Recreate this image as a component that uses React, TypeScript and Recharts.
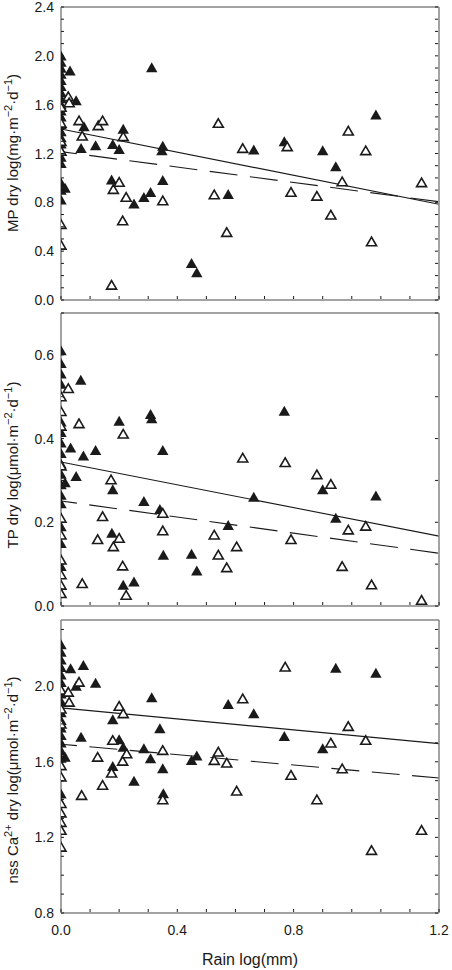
import { ReferenceLine, Scatter, ScatterChart, XAxis, YAxis } from "recharts";

type Pt = [number, number];

// shared x axis: rain log(mm)
const rainTicks = [0, 0.1, 0.2, 0.3, 0.4, 0.5, 0.6, 0.7, 0.8, 0.9, 1.0, 1.1, 1.2, 1.3];
const rainTickLabels: Record<string, string> = { "0": "0.0", "0.4": "0.4", "0.8": "0.8", "1.3": "1.2" };

// MP panel
const mpTicks = [0, 0.1, 0.2, 0.3, 0.4, 0.5, 0.6, 0.7, 0.8, 0.9, 1.0, 1.1, 1.2, 1.3, 1.4, 1.5, 1.6, 1.7, 1.8, 1.9, 2.0, 2.1, 2.2, 2.3, 2.4];
const mpLabeled = [0, 0.4, 0.8, 1.2, 1.6, 2.0, 2.4];
const mpFilled: Pt[] = [
  [0, 2.0], [0, 1.95], [0, 1.9], [0, 1.85], [0, 1.8], [0, 1.75], [0, 1.7], [0, 1.65], [0, 1.6],
  [0, 1.55], [0, 1.5], [0, 1.44], [0, 1.38], [0, 1.33], [0, 1.28], [0, 1.22], [0, 1.17], [0, 1.12],
  [0, 0.96], [0, 0.9], [0, 0.82],
  [0.031, 1.877], [0.052, 1.634], [0.079, 1.42], [0.069, 1.243], [0.119, 1.265], [0.178, 1.276],
  [0.2, 1.235], [0.214, 1.4], [0.312, 1.904], [0.35, 1.262], [0.347, 1.225], [0.174, 0.984],
  [0.35, 0.98], [0.251, 0.787], [0.285, 0.842], [0.308, 0.883], [0.449, 0.3], [0.467, 0.224],
  [0.575, 0.866], [0.014, 0.918], [0.663, 1.23], [0.768, 1.298], [0.9, 1.224], [0.945, 1.093],
  [1.083, 1.516],
];
const mpOpen: Pt[] = [
  [0, 1.58], [0, 1.45], [0, 1.3], [0, 1.22], [0, 0.62], [0, 0.45],
  [0.025, 1.667], [0.028, 1.617], [0.062, 1.47], [0.073, 1.344], [0.128, 1.429], [0.143, 1.47],
  [0.214, 1.339], [0.18, 0.907], [0.2, 0.965], [0.224, 0.842], [0.212, 0.65], [0.174, 0.123],
  [0.35, 0.814], [0.527, 0.863], [0.541, 1.448], [0.57, 0.555], [0.625, 1.243], [0.778, 1.257],
  [0.791, 0.883], [0.88, 0.852], [0.928, 0.697], [0.967, 0.97], [0.988, 1.385], [1.048, 1.224],
  [1.068, 0.478], [1.24, 0.962],
];
const mpSolid: Pt[] = [[0, 1.4], [1.3, 0.785]];
const mpDashed: Pt[] = [[0, 1.215], [1.3, 0.805]];

// TP panel
const tpTicks = [0, 0.1, 0.2, 0.3, 0.4, 0.5, 0.6, 0.7];
const tpLabeled = [0, 0.2, 0.4, 0.6];
const tpFilled: Pt[] = [
  [0, 0.61], [0, 0.58], [0, 0.555], [0, 0.53], [0, 0.44], [0, 0.415], [0, 0.39], [0, 0.365],
  [0, 0.34], [0, 0.315], [0, 0.29], [0, 0.265], [0, 0.245], [0, 0.19], [0, 0.15], [0, 0.095],
  [0.068, 0.54], [0.033, 0.378], [0.077, 0.359], [0.119, 0.372], [0.052, 0.31], [0.014, 0.295],
  [0.2, 0.442], [0.308, 0.458], [0.312, 0.448], [0.35, 0.372], [0.178, 0.278], [0.285, 0.25],
  [0.34, 0.231], [0.175, 0.174], [0.352, 0.122], [0.449, 0.124], [0.467, 0.084], [0.214, 0.05],
  [0.251, 0.058], [0.575, 0.193], [0.663, 0.26], [0.768, 0.466], [0.9, 0.278], [0.945, 0.21],
  [1.083, 0.263],
];
const tpOpen: Pt[] = [
  [0, 0.5], [0, 0.465], [0, 0.43], [0, 0.335], [0, 0.21], [0, 0.17], [0, 0.11], [0, 0.075],
  [0, 0.05], [0, 0.03],
  [0.025, 0.52], [0.062, 0.436], [0.214, 0.411], [0.172, 0.302], [0.143, 0.214], [0.126, 0.159],
  [0.18, 0.142], [0.2, 0.162], [0.212, 0.096], [0.224, 0.026], [0.073, 0.054], [0.35, 0.222],
  [0.35, 0.18], [0.527, 0.17], [0.541, 0.122], [0.57, 0.092], [0.604, 0.142], [0.625, 0.354],
  [0.771, 0.343], [0.791, 0.159], [0.88, 0.314], [0.928, 0.291], [0.988, 0.182], [0.967, 0.095],
  [1.048, 0.191], [1.068, 0.051], [1.24, 0.014],
];
const tpSolid: Pt[] = [[0, 0.344], [1.3, 0.167]];
const tpDashed: Pt[] = [[0, 0.251], [1.3, 0.126]];

// nss Ca2+ panel
const caTicks = [0.8, 0.9, 1.0, 1.1, 1.2, 1.3, 1.4, 1.5, 1.6, 1.7, 1.8, 1.9, 2.0, 2.1, 2.2, 2.3];
const caLabeled = [0.8, 1.2, 1.6, 2.0];
const caFilled: Pt[] = [
  [0, 2.22], [0, 2.18], [0, 2.14], [0, 2.1], [0, 2.06], [0, 2.02], [0, 1.96], [0, 1.92], [0, 1.86],
  [0, 1.82], [0, 1.78], [0, 1.74], [0, 1.7], [0, 1.66], [0, 1.62], [0, 1.43],
  [0.033, 2.093], [0.077, 2.111], [0.052, 2.0], [0.119, 2.017], [0.312, 1.94], [0.069, 1.731],
  [0.178, 1.823], [0.2, 1.717], [0.214, 1.678], [0.285, 1.67], [0.308, 1.617], [0.34, 1.776],
  [0.35, 1.564], [0.352, 1.432], [0.178, 1.576], [0.251, 1.498], [0.449, 1.608], [0.467, 1.631],
  [0.575, 1.904], [0.014, 1.625], [0.663, 1.855], [0.768, 1.735], [0.9, 1.67], [0.945, 2.096],
  [1.083, 2.07],
];
const caOpen: Pt[] = [
  [0, 1.98], [0, 1.88], [0, 1.8], [0, 1.58], [0, 1.52], [0, 1.38], [0, 1.33], [0, 1.28],
  [0, 1.238], [0, 1.149],
  [0.025, 1.969], [0.028, 1.916], [0.062, 2.022], [0.2, 1.894], [0.214, 1.855], [0.178, 1.714],
  [0.126, 1.625], [0.174, 1.541], [0.212, 1.604], [0.226, 1.643], [0.143, 1.476], [0.071, 1.423],
  [0.35, 1.661], [0.35, 1.4], [0.527, 1.608], [0.541, 1.652], [0.57, 1.594], [0.604, 1.446],
  [0.625, 1.934], [0.771, 2.102], [0.791, 1.529], [0.88, 1.4], [0.928, 1.7], [0.967, 1.564],
  [0.988, 1.788], [1.048, 1.714], [1.068, 1.132], [1.24, 1.238],
];
const caSolid: Pt[] = [[0, 1.885], [1.3, 1.696]];
const caDashed: Pt[] = [[0, 1.693], [1.3, 1.514]];

const FONT = '"Liberation Sans", Arial, Helvetica, sans-serif';
const INK = "#1a1a1a";
const FRAME = { stroke: "#858585", strokeWidth: 1.5 };
const TICK = 3;
const TICK_FONT = 14;

const toXY = (pts: Pt[]) => pts.map(([x, y]) => ({ x, y }));

function Tri({ cx, cy, hollow }: any) {
  if (cx == null || cy == null) return null;
  if (hollow) {
    return (
      <polygon
        points={`${cx},${cy - 4.5} ${cx - 5},${cy + 4.1} ${cx + 5},${cy + 4.1}`}
        fill="#fff"
        stroke={INK}
        strokeWidth={1.6}
      />
    );
  }
  return <polygon points={`${cx},${cy - 5.3} ${cx - 5.7},${cy + 4.7} ${cx + 5.7},${cy + 4.7}`} fill={INK} />;
}

// axes are 1px thick boxes (recharts skips 0-sized ones); ticks point inwards
const bottomTick = (labels: Record<string, string> | null) => (p: any) => {
  const { x, y, payload } = p;
  const label = labels ? labels[String(payload.value)] : undefined;
  return (
    <g>
      <line x1={x} x2={x} y1={y - 1} y2={y - 1 - TICK} stroke={INK} />
      {label && (
        <text x={x} y={y + 22} textAnchor="middle" fontSize={TICK_FONT} fontFamily={FONT} fill={INK}>
          {label}
        </text>
      )}
    </g>
  );
};

const topTick = (p: any) => <line x1={p.x} x2={p.x} y1={p.y} y2={p.y + TICK} stroke={INK} />;

const leftTick = (labeled: number[]) => (p: any) => {
  const { x, y, payload } = p;
  const v = payload.value as number;
  return (
    <g>
      <line x1={x} x2={x + TICK} y1={y} y2={y} stroke={INK} />
      {labeled.includes(v) && (
        <text x={x - 7} y={y} dy={5} textAnchor="end" fontSize={TICK_FONT} fontFamily={FONT} fill={INK}>
          {v.toFixed(1)}
        </text>
      )}
    </g>
  );
};

const rightTick = (p: any) => <line x1={p.x - 1} x2={p.x - 1 - TICK} y1={p.y} y2={p.y} stroke={INK} />;

// rotated y title, segs flagged true are superscripts
function YTitle({ centerY, segs }: { centerY: number; segs: Array<[string, boolean]> }) {
  let up = false;
  return (
    <text
      transform={`translate(17.5,${centerY}) rotate(-90)`}
      textAnchor="middle"
      fontSize={15}
      fontFamily={FONT}
      fill={INK}
    >
      {segs.map(([s, sup], i) => {
        const dy = sup && !up ? -5.5 : !sup && up ? 5.5 : 0;
        up = sup;
        return (
          <tspan key={i} dy={dy} fontSize={sup ? 11 : 15}>
            {s}
          </tspan>
        );
      })}
    </text>
  );
}

function XTitle() {
  return (
    <text x={250} y={352} textAnchor="middle" fontSize={16} fontFamily={FONT} fill={INK}>
      Rain log(mm)
    </text>
  );
}

function Panel({
  top,
  height,
  filled,
  open,
  solid,
  dashed,
  yDomain,
  yTicks,
  yLabeled,
  titleY,
  title,
  showX,
}: {
  top: number;
  height: number;
  filled: Pt[];
  open: Pt[];
  solid: Pt[];
  dashed: Pt[];
  yDomain: [number, number];
  yTicks: number[];
  yLabeled: number[];
  titleY: number;
  title: Array<[string, boolean]>;
  showX?: boolean;
}) {
  return (
    <div style={{ position: "absolute", left: 0, top }}>
      <ScatterChart width={452} height={height} margin={{ top: 6, right: 12, bottom: height - 301, left: 60 }}>
        <XAxis
          dataKey="x"
          type="number"
          domain={[0, 1.3]}
          ticks={rainTicks}
          interval={0}
          height={1}
          tickSize={0}
          tickMargin={0}
          tickLine={false}
          axisLine={FRAME}
          allowDataOverflow
          tick={bottomTick(showX ? rainTickLabels : null)}
          label={showX ? <XTitle /> : undefined}
        />
        <XAxis
          xAxisId="top"
          orientation="top"
          type="number"
          domain={[0, 1.3]}
          ticks={rainTicks}
          interval={0}
          height={1}
          tickSize={0}
          tickMargin={0}
          tickLine={false}
          axisLine={FRAME}
          allowDataOverflow
          tick={topTick}
        />
        <YAxis
          dataKey="y"
          type="number"
          domain={yDomain}
          ticks={yTicks}
          interval={0}
          width={1}
          tickSize={0}
          tickMargin={0}
          tickLine={false}
          axisLine={FRAME}
          allowDataOverflow
          tick={leftTick(yLabeled)}
          label={<YTitle centerY={titleY} segs={title} />}
        />
        <YAxis
          yAxisId="right"
          orientation="right"
          type="number"
          domain={yDomain}
          ticks={yTicks}
          interval={0}
          width={1}
          tickSize={0}
          tickMargin={0}
          tickLine={false}
          axisLine={FRAME}
          allowDataOverflow
          tick={rightTick}
        />
        <ReferenceLine segment={toXY(solid)} stroke={INK} strokeWidth={1.1} ifOverflow="visible" />
        <ReferenceLine
          segment={toXY(dashed)}
          stroke={INK}
          strokeWidth={1.1}
          strokeDasharray="28 12.5"
          strokeDashoffset={12}
          ifOverflow="visible"
        />
        <Scatter data={toXY(filled)} shape={(p: any) => <Tri {...p} />} isAnimationActive={false} />
        <Scatter data={toXY(open)} shape={(p: any) => <Tri {...p} hollow />} isAnimationActive={false} />
      </ScatterChart>
    </div>
  );
}

export default function App() {
  // upper panels get taller svgs that reach under the next panel, so their 0.0 label is not cut
  return (
    <div style={{ position: "absolute", left: 0, top: 0, width: 452, height: 970, background: "#fff" }}>
      <Panel
        top={0}
        height={312}
        filled={mpFilled}
        open={mpOpen}
        solid={mpSolid}
        dashed={mpDashed}
        yDomain={[0, 2.4]}
        yTicks={mpTicks}
        yLabeled={mpLabeled}
        titleY={153}
        title={[["MP dry log(mg·m", false], ["−2", true], ["·d", false], ["−1", true], [")", false]]}
      />
      <Panel
        top={306}
        height={312}
        filled={tpFilled}
        open={tpOpen}
        solid={tpSolid}
        dashed={tpDashed}
        yDomain={[0, 0.7]}
        yTicks={tpTicks}
        yLabeled={tpLabeled}
        titleY={159}
        title={[["TP dry log(μmol·m", false], ["−2", true], ["·d", false], ["−1", true], [")", false]]}
      />
      <Panel
        top={613}
        height={357}
        filled={caFilled}
        open={caOpen}
        solid={caSolid}
        dashed={caDashed}
        yDomain={[0.8, 2.35]}
        yTicks={caTicks}
        yLabeled={caLabeled}
        titleY={167}
        title={[
          ["nss Ca", false],
          ["2+", true],
          [" dry log(μmol·m", false],
          ["−2", true],
          ["·d", false],
          ["−1", true],
          [")", false],
        ]}
        showX
      />
    </div>
  );
}
